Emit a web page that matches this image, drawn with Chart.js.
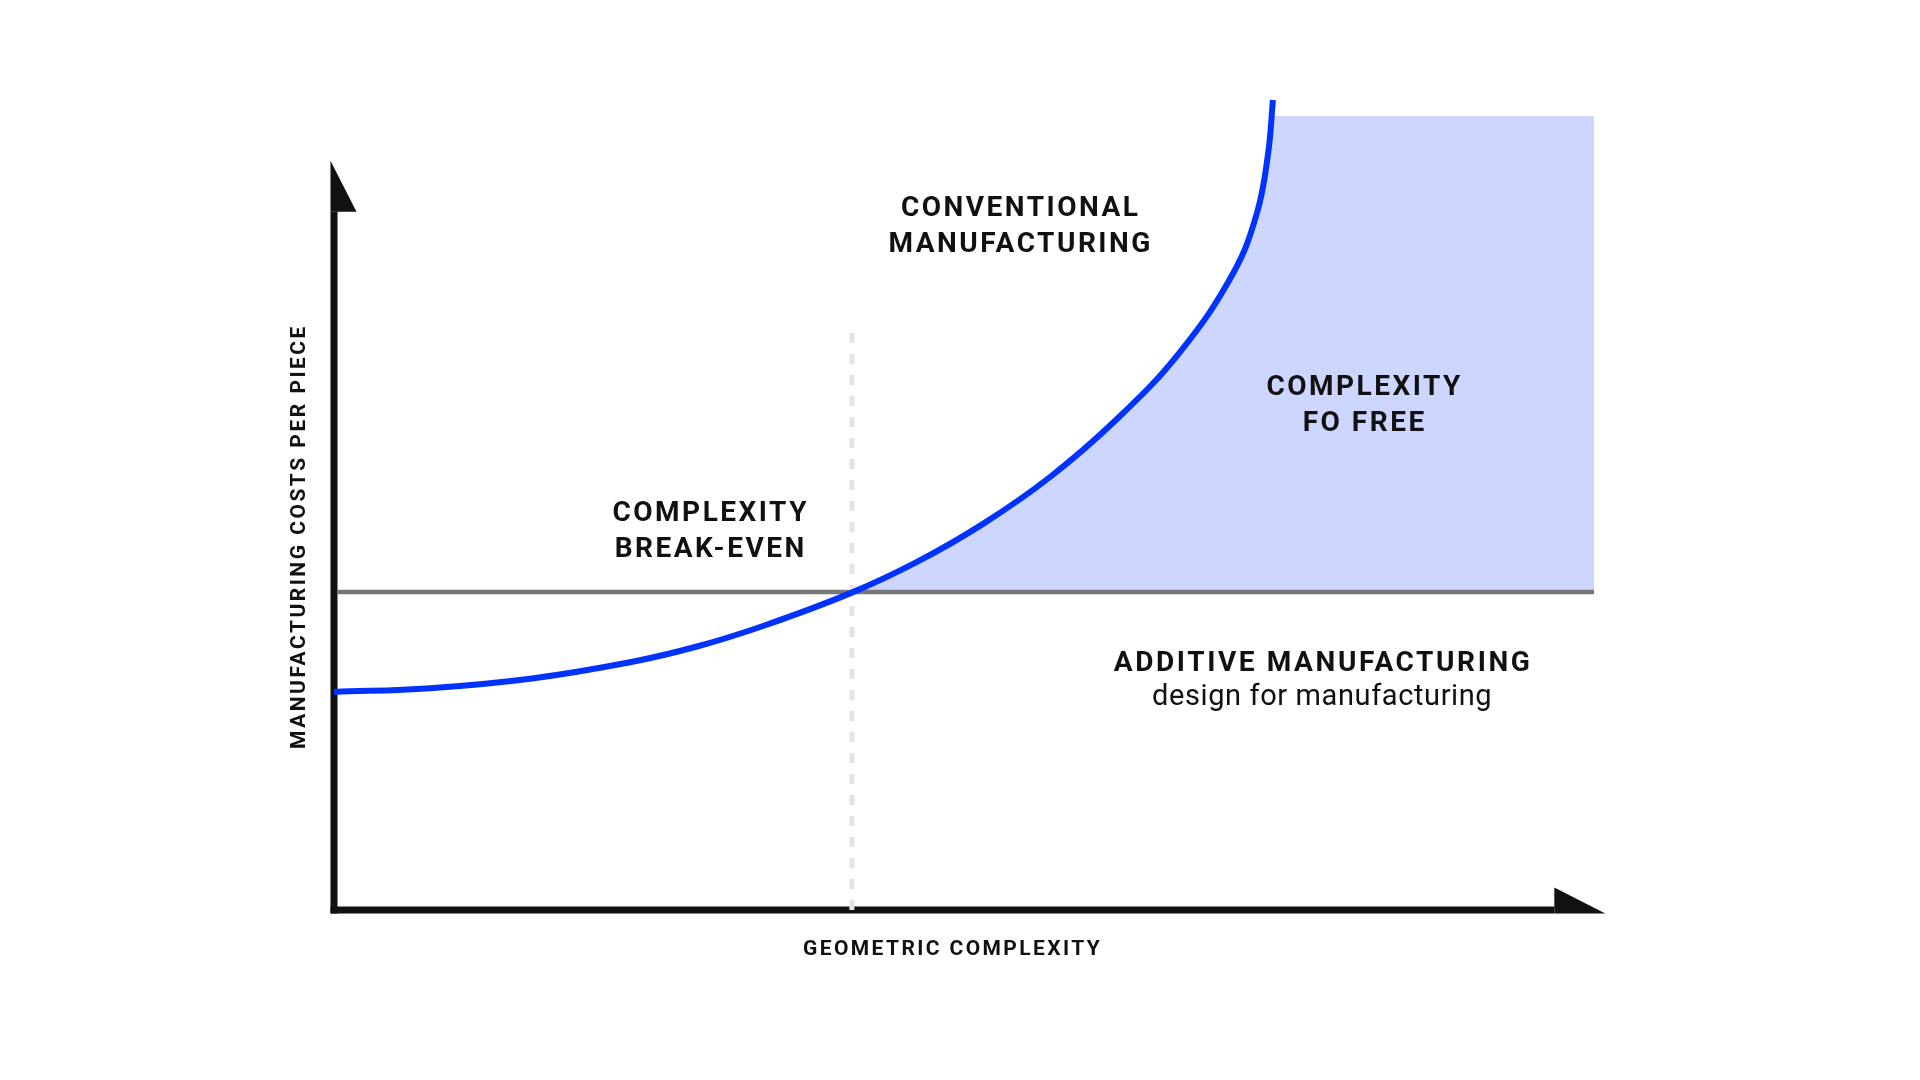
<!DOCTYPE html>
<html>
<head>
<meta charset="utf-8">
<script src="https://cdn.jsdelivr.net/npm/chart.js@4.4.1/dist/chart.umd.min.js"></script>
<style>
  html, body { margin: 0; padding: 0; background: #fff; }
  #wrap { width: 1920px; height: 1080px; }
</style>
</head>
<body>
<div id="wrap"><canvas id="costChart"></canvas></div>
<script>
// cost curve of conventional manufacturing (x = geometric complexity, y = cost per piece)
const curveX = [0, 7.62, 15.56, 23.49, 28.81, 34.05, 40.95, 46.27, 51.51, 56.83, 62.14, 67.14, 71.35, 73.25, 74.13, 74.52];
const curveY = [26.88, 27.35, 28.52, 30.55, 32.49, 35.02, 39.04, 42.92, 47.61, 53.39, 60.54, 68.8, 78.48, 85.94, 93.22, 99.88];

// "complexity for free" area: under the curve down to the additive cost line...
const shadeCurveX = [41.1, 46.27, 51.51, 56.83, 62.14, 67.14, 71.35, 73.25, 74.13, 74.4];
const shadeCurveY = [39.2, 42.92, 47.61, 53.39, 60.54, 68.8, 78.48, 85.94, 93.22, 97.9];
// ...and the flat-topped block to the right of it
const shadeBlockX = [74.3, 100];
const shadeBlockY = [97.9, 97.9];

// additive manufacturing cost (flat)
const additiveX = [0.3, 100];
const additiveY = [39.2, 39.2];

// break-even marker
const breakEvenX = [41.1, 41.1];
const breakEvenY = [0, 72.0];

const additiveLevel = 39.2;
const axisEnd = { x: 100.9, y: 92.4 };

const labels = [
  { lines: ['CONVENTIONAL', 'MANUFACTURING'], x: 54.4, y: 84.2 },
  { lines: ['COMPLEXITY', 'FO FREE'], x: 81.7, y: 62.2 },
  { lines: ['COMPLEXITY', 'BREAK-EVEN'], x: 29.8, y: 46.6 },
];
const additiveLabel = { title: 'ADDITIVE MANUFACTURING', sub: 'design for manufacturing', x: 78.4, y: 30.3 };
const xTitle = { text: 'GEOMETRIC COMPLEXITY', x: 49.0, y: -4.9 };
const yTitle = { text: 'MANUFACTURING COSTS PER PIECE', x: -2.7, y: 45.9 };

const toPts = (xs, ys) => xs.map((x, i) => ({ x: x, y: ys[i] }));

// fillText with letterSpacing leaves a trailing gap, so nudge to keep text centred
function spacedText(ctx, text, x, y, spacing) {
  ctx.letterSpacing = spacing + 'px';
  ctx.fillText(text, x + spacing / 2, y);
}

const axesPlugin = {
  id: 'axes',
  beforeDatasetsDraw(chart) {
    const ctx = chart.ctx;
    const sx = chart.scales.x, sy = chart.scales.y;
    const ox = sx.getPixelForValue(0), oy = sy.getPixelForValue(0);
    const topY = sy.getPixelForValue(axisEnd.y);
    const tipX = sx.getPixelForValue(axisEnd.x);
    const w = 7, head = 51, hw = 26;
    ctx.save();
    ctx.fillStyle = '#111';
    // y axis + arrow
    ctx.fillRect(ox - w / 2, topY + head, w, oy + w / 2 - (topY + head));
    ctx.beginPath();
    ctx.moveTo(ox - w / 2, topY);
    ctx.lineTo(ox - w / 2 + hw, topY + head);
    ctx.lineTo(ox - w / 2, topY + head);
    ctx.closePath();
    ctx.fill();
    // x axis + arrow
    ctx.fillRect(ox - w / 2, oy - w / 2, tipX - head - (ox - w / 2), w);
    ctx.beginPath();
    ctx.moveTo(tipX, oy + w / 2);
    ctx.lineTo(tipX - head, oy + w / 2 - hw);
    ctx.lineTo(tipX - head, oy + w / 2);
    ctx.closePath();
    ctx.fill();
    ctx.restore();
  },
  afterDatasetsDraw(chart) {
    const ctx = chart.ctx;
    const sx = chart.scales.x, sy = chart.scales.y;
    ctx.save();
    ctx.fillStyle = '#111';
    ctx.textAlign = 'center';
    ctx.textBaseline = 'middle';
    ctx.font = '700 28px Roboto';
    labels.forEach(l => {
      const cx = sx.getPixelForValue(l.x), cy = sy.getPixelForValue(l.y);
      l.lines.forEach((t, i) => {
        spacedText(ctx, t, cx, cy + (i - (l.lines.length - 1) / 2) * 36, 2.5);
      });
    });
    const ax = sx.getPixelForValue(additiveLabel.x), ay = sy.getPixelForValue(additiveLabel.y);
    spacedText(ctx, additiveLabel.title, ax, ay, 2.6);
    ctx.font = '400 29px Roboto';
    spacedText(ctx, additiveLabel.sub, ax, ay + 33, 0.6);

    ctx.font = '700 21px Roboto';
    spacedText(ctx, xTitle.text, sx.getPixelForValue(xTitle.x), sy.getPixelForValue(xTitle.y), 2.4);
    ctx.translate(sx.getPixelForValue(yTitle.x), sy.getPixelForValue(yTitle.y));
    ctx.rotate(-Math.PI / 2);
    spacedText(ctx, yTitle.text, 0, 0, 2.5);
    ctx.restore();
  }
};

new Chart(document.getElementById('costChart'), {
  type: 'line',
  data: {
    datasets: [
      {
        label: 'Conventional',
        data: toPts(curveX, curveY),
        borderColor: '#0033ff',
        borderWidth: 6,
        tension: 0.4,
        pointRadius: 0,
        fill: false,
        clip: false,
        order: 0
      },
      {
        label: 'Break-even',
        data: toPts(breakEvenX, breakEvenY),
        borderColor: '#e4e4e4',
        borderWidth: 5,
        borderDash: [10, 11],
        pointRadius: 0,
        fill: false,
        order: 1
      },
      {
        label: 'Additive',
        data: toPts(additiveX, additiveY),
        borderColor: '#777777',
        borderWidth: 4.5,
        pointRadius: 0,
        fill: false,
        order: 2
      },
      {
        label: 'Complexity for free',
        data: toPts(shadeCurveX, shadeCurveY),
        borderWidth: 0,
        borderColor: 'rgba(0,0,0,0)',
        backgroundColor: '#cdd6fe',
        tension: 0.4,
        pointRadius: 0,
        fill: { value: additiveLevel },
        order: 3
      },
      {
        label: 'Complexity for free (block)',
        data: toPts(shadeBlockX, shadeBlockY),
        borderWidth: 0,
        borderColor: 'rgba(0,0,0,0)',
        backgroundColor: '#cdd6fe',
        tension: 0,
        pointRadius: 0,
        fill: { value: additiveLevel },
        order: 4
      }
    ]
  },
  options: {
    responsive: true,
    maintainAspectRatio: false,
    animation: false,
    events: [],
    layout: { padding: { left: 334, right: 326, top: 99, bottom: 170 } },
    plugins: {
      legend: { display: false },
      tooltip: { enabled: false }
    },
    scales: {
      x: { type: 'linear', min: 0, max: 100, display: false },
      y: { type: 'linear', min: 0, max: 100, display: false }
    }
  },
  plugins: [axesPlugin]
});
</script>
</body>
</html>
